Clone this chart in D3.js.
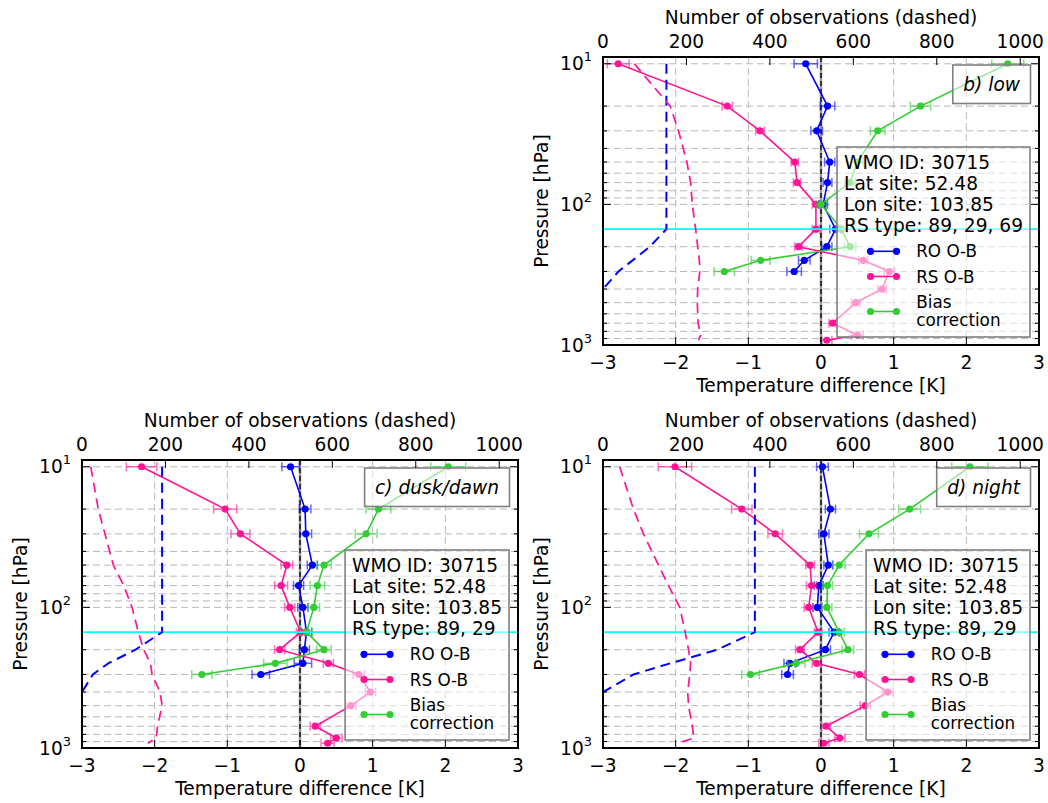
<!DOCTYPE html>
<html><head><meta charset="utf-8">
<script src="https://cdn.jsdelivr.net/npm/d3@7"></script>
<style>body{margin:0;background:#fff} svg{display:block} text{font-family:"DejaVu Sans",sans-serif;fill:#000}</style>
</head><body><svg id="c" width="1048" height="803"></svg>
<script>
// ---------- data ----------
const levels = [10,20,30,50,70,100,150,200,250,300,400,500,700,850,925]; // hPa
const xTicks = [-3,-2,-1,0,1,2,3];
const topTicks = [0,200,400,600,800,1000];
const yMajor = [10,100,1000];
const yMinor = [20,30,40,50,60,70,80,90,200,300,400,500,600,700,800,900];
const tropopause = 150;

// b) low
const lowRO     = [-0.21,0.09,-0.06,0.12,0.09,0.03,0.20,0.08,-0.23,-0.37];
const lowROErr  = [0.16,0.10,0.08,0.07,0.06,0.06,0.08,0.07,0.08,0.10];
const lowRS     = [-2.79,-1.29,-0.84,-0.36,-0.33,-0.07,-0.07,-0.31,0.58,0.94,0.84,0.48,0.16,0.50,0.08];
const lowRSErr  = [0.15,0.07,0.06,0.05,0.05,0.05,0.05,0.05,0.06,0.07,0.06,0.06,0.05,0.08,0.07];
const lowBC     = [2.57,1.37,0.78,0.50,0.40,0.00,0.28,0.40,-0.83,-1.33];
const lowBCErr  = [0.22,0.14,0.10,0.08,0.07,0.07,0.08,0.08,0.13,0.14];
const lowNumRO  = [152,152,152,152,152,152,152,112,71,37,0];
const lowNumRS  = [75,161,181,201,210,214,222,227,231,232,227,226,228,234,229];

// c) dusk/dawn
const duskRO    = [-0.13,0.07,0.08,0.17,-0.02,0.04,0.09,0.06,0.04,-0.54];
const duskROErr = [0.12,0.08,0.08,0.07,0.07,0.07,0.07,0.07,0.12,0.12];
const duskRS    = [-2.18,-1.03,-0.82,-0.18,-0.26,-0.14,0.01,-0.28,0.39,0.81,0.97,0.70,0.21,0.50,0.38];
const duskRSErr = [0.21,0.16,0.13,0.08,0.09,0.07,0.06,0.07,0.07,0.08,0.07,0.07,0.07,0.08,0.09];
const duskBC    = [2.04,1.08,0.91,0.33,0.24,0.19,0.09,0.33,-0.34,-1.35];
const duskBCErr = [0.24,0.17,0.15,0.10,0.10,0.08,0.08,0.10,0.16,0.14];
const duskNumRO = [192,192,192,192,192,192,192,128,63,26,0];
const duskNumRS = [21,39,55,75,100,120,135,148,164,168,187,192,181,178,158];

// d) night
const nightRO    = [0.02,0.13,0.04,0.10,-0.03,-0.05,0.18,0.06,-0.43,-0.46];
const nightROErr = [0.08,0.07,0.07,0.06,0.06,0.06,0.07,0.07,0.08,0.08];
const nightRS    = [-2.01,-1.09,-0.63,-0.15,-0.13,-0.17,-0.04,-0.29,-0.06,0.53,0.92,0.61,0.07,0.26,0.04];
const nightRSErr = [0.23,0.14,0.10,0.06,0.07,0.06,0.05,0.06,0.06,0.07,0.07,0.07,0.06,0.07,0.07];
const nightBC    = [2.05,1.22,0.66,0.25,0.09,0.08,0.25,0.37,-0.34,-0.97];
const nightBCErr = [0.25,0.15,0.13,0.08,0.07,0.07,0.07,0.08,0.12,0.12];
const nightNumRO = [364,364,364,364,364,364,364,274,161,73,0];
const nightNumRS = [40,73,97,133,157,184,197,205,210,208,203,205,214,218,179];

const infoLines = ['WMO ID: 30715','Lat site: 52.48','Lon site: 103.85'];

// ---------- layout / style ----------
const W = 436, H = 288;
const C = {ro:'#0000ff', rs:'#ff1493', bc:'#32cd32', cyan:'#00ffff', grid:'#b8b8b8', box:'#808080'};
const FS = 18.6, LFS = 16.8;

const panels = [
  {title:'b) low', rsType:'89, 29, 69', x0:603, y0:57, ro:lowRO, roErr:lowROErr, rs:lowRS, rsErr:lowRSErr, bc:lowBC, bcErr:lowBCErr, nRO:lowNumRO, nRS:lowNumRS},
  {title:'c) dusk/dawn', rsType:'89, 29', x0:82, y0:460, ro:duskRO, roErr:duskROErr, rs:duskRS, rsErr:duskRSErr, bc:duskBC, bcErr:duskBCErr, nRO:duskNumRO, nRS:duskNumRS},
  {title:'d) night', rsType:'89, 29', x0:603, y0:460, ro:nightRO, roErr:nightROErr, rs:nightRS, rsErr:nightRSErr, bc:nightBC, bcErr:nightBCErr, nRO:nightNumRO, nRS:nightNumRS}
];

const svg = d3.select('#c');
const defs = svg.append('defs');

panels.forEach((p, pi) => {
  const x = d3.scaleLinear().domain([-3,3]).range([p.x0, p.x0+W]);
  const xt = d3.scaleLinear().domain([0,1045]).range([p.x0, p.x0+W]);
  const y = d3.scaleLog().domain([8.95,1000]).range([p.y0, p.y0+H]);
  const clipId = 'clip'+pi;
  defs.append('clipPath').attr('id', clipId).append('rect')
    .attr('x', p.x0).attr('y', p.y0).attr('width', W).attr('height', H);
  const g = svg.append('g');
  const pg = g.append('g').attr('clip-path', `url(#${clipId})`);

  // grid
  pg.selectAll('.hg').data(yMajor.concat(yMinor)).enter().append('line')
    .attr('x1', p.x0).attr('x2', p.x0+W).attr('y1', d=>y(d)).attr('y2', d=>y(d))
    .attr('stroke', C.grid).attr('stroke-width',1).attr('stroke-dasharray','7,4');
  pg.selectAll('.vg').data(xTicks.filter(d=>d!==0)).enter().append('line')
    .attr('y1', p.y0).attr('y2', p.y0+H).attr('x1', d=>x(d)).attr('x2', d=>x(d))
    .attr('stroke', C.grid).attr('stroke-width',1).attr('stroke-dasharray','7,4');

  // zero line
  pg.append('line').attr('x1', x(0)).attr('x2', x(0)).attr('y1', p.y0).attr('y2', p.y0+H)
    .attr('stroke', '#999').attr('stroke-width', 2.5);
  pg.append('line').attr('x1', x(0)).attr('x2', x(0)).attr('y1', p.y0).attr('y2', p.y0+H)
    .attr('stroke', '#000').attr('stroke-width', 1.3).attr('stroke-dasharray','5,3');

  // data series
  const series = [
    {vals:p.ro, err:p.roErr, color:C.ro},
    {vals:p.rs, err:p.rsErr, color:C.rs},
    {vals:p.bc, err:p.bcErr, color:C.bc}
  ];
  series.forEach(s => {
    const pts = s.vals.map((v,i)=>({v, e:s.err[i], p:levels[i]}));
    const eg = pg.append('g').attr('stroke', s.color).attr('stroke-width',1.5).attr('opacity',0.6);
    pts.forEach(d => {
      eg.append('line').attr('x1', x(d.v-d.e)).attr('x2', x(d.v+d.e)).attr('y1', y(d.p)).attr('y2', y(d.p));
      [d.v-d.e, d.v+d.e].forEach(xx => eg.append('line').attr('x1', x(xx)).attr('x2', x(xx))
        .attr('y1', y(d.p)-4.5).attr('y2', y(d.p)+4.5));
    });
    pg.append('path').datum(pts)
      .attr('d', d3.line().x(d=>x(d.v)).y(d=>y(d.p)))
      .attr('fill','none').attr('stroke', s.color).attr('stroke-width',1.6);
    pg.selectAll(null).data(pts).enter().append('circle')
      .attr('cx', d=>x(d.v)).attr('cy', d=>y(d.p)).attr('r',3.6).attr('fill', s.color);
  });

  // info + legend box
  const lines = infoLines.concat(['RS type: ' + p.rsType]);
  const tmp = g.append('g');
  let maxW = 0;
  lines.forEach(t => {
    const tt = tmp.append('text').attr('font-size', FS).text(t);
    maxW = Math.max(maxW, tt.node().getComputedTextLength());
  });
  tmp.remove();
  const bw = maxW + 14, bh = 190;
  const bx = p.x0 + W - 9 - bw, by = p.y0 + 90;
  g.append('rect').attr('x', bx).attr('y', by).attr('width', bw).attr('height', bh)
    .attr('fill', '#fff').attr('fill-opacity', 0.55).attr('stroke', C.box).attr('stroke-width',1.6);
  lines.forEach((t,i) => g.append('text').attr('font-size', FS)
    .attr('x', bx+7).attr('y', by+15+i*21.1).attr('dy','0.36em').text(t));
  const lx = bx + bw/2 - 63;
  const legItems = [
    {lab:['RO O-B'], color:C.ro, dy:104.3},
    {lab:['RS O-B'], color:C.rs, dy:129.5},
    {lab:['Bias','correction'], color:C.bc, dy:164.5}
  ];
  legItems.forEach(it => {
    const yy = by + it.dy;
    g.append('line').attr('x1', lx).attr('x2', lx+26).attr('y1', yy).attr('y2', yy)
      .attr('stroke', it.color).attr('stroke-width',1.6);
    [lx, lx+26].forEach(cx => g.append('circle').attr('cx', cx).attr('cy', yy).attr('r',3.6).attr('fill', it.color));
    it.lab.forEach((t,k) => g.append('text').attr('font-size', LFS)
      .attr('x', lx+45.7).attr('y', yy + (it.lab.length>1 ? (k===0?-9.8:8.8) : 0)).attr('dy','0.36em').text(t));
  });

  // title box
  const tt = g.append('text').attr('font-size', FS).attr('font-style','italic').text(p.title);
  const tw = tt.node().getComputedTextLength();
  const tbw = tw + 21, tbx = p.x0 + W - 8.5 - tbw, tby = p.y0 + 8;
  g.insert('rect', () => tt.node()).attr('x', tbx).attr('y', tby).attr('width', tbw).attr('height', 38.5)
    .attr('fill', '#fff').attr('fill-opacity', 0.55).attr('stroke', C.box).attr('stroke-width',1.6);
  tt.attr('x', tbx + tbw/2).attr('text-anchor','middle').attr('y', tby+19.5).attr('dy','0.36em');

  // tropopause (cyan)
  pg.append('line').attr('x1', p.x0).attr('x2', p.x0+W).attr('y1', y(tropopause)).attr('y2', y(tropopause))
    .attr('stroke', C.cyan).attr('stroke-width', 1.6);

  // number of observations (dashed, top axis)
  const cg = g.append('g').attr('clip-path', `url(#${clipId})`);
  cg.append('path').datum(p.nRO.map((n,i)=>({n, p:levels[i]})))
    .attr('d', d3.line().x(d=>xt(d.n)).y(d=>y(d.p)))
    .attr('fill','none').attr('stroke', C.ro).attr('stroke-width',2).attr('stroke-dasharray','10,6');
  cg.append('path').datum(p.nRS.map((n,i)=>({n, p:levels[i]})))
    .attr('d', d3.line().x(d=>xt(d.n)).y(d=>y(d.p)))
    .attr('fill','none').attr('stroke', C.rs).attr('stroke-width',1.7).attr('stroke-dasharray','10,6');

  // frame
  g.append('rect').attr('x', p.x0).attr('y', p.y0).attr('width', W).attr('height', H)
    .attr('fill','none').attr('stroke','#000').attr('stroke-width',2);

  // ticks
  const tk = g.append('g').attr('stroke','#000').attr('stroke-width',1);
  xTicks.forEach(v => tk.append('line').attr('x1', x(v)).attr('x2', x(v)).attr('y1', p.y0+H).attr('y2', p.y0+H-8));
  topTicks.forEach(v => tk.append('line').attr('x1', xt(v)).attr('x2', xt(v)).attr('y1', p.y0).attr('y2', p.y0+8));
  yMajor.forEach(v => {
    tk.append('line').attr('x1', p.x0).attr('x2', p.x0+8).attr('y1', y(v)).attr('y2', y(v));
    tk.append('line').attr('x1', p.x0+W).attr('x2', p.x0+W-8).attr('y1', y(v)).attr('y2', y(v));
  });
  yMinor.forEach(v => {
    tk.append('line').attr('x1', p.x0).attr('x2', p.x0+4).attr('y1', y(v)).attr('y2', y(v));
    tk.append('line').attr('x1', p.x0+W).attr('x2', p.x0+W-4).attr('y1', y(v)).attr('y2', y(v));
  });

  // tick labels
  xTicks.forEach(v => g.append('text').attr('font-size', FS).attr('text-anchor','middle')
    .attr('x', x(v)).attr('y', p.y0+H+17).attr('dy','0.36em').text(v < 0 ? '\u2212' + Math.abs(v) : String(v)));
  topTicks.forEach(v => g.append('text').attr('font-size', FS).attr('text-anchor','middle')
    .attr('x', xt(v)).attr('y', p.y0-16).attr('dy','0.36em').text(String(v)));
  yMajor.forEach(v => {
    const t = g.append('text').attr('font-size', FS).attr('text-anchor','end')
      .attr('x', p.x0-11).attr('y', y(v)).attr('dy','0.36em');
    t.append('tspan').text('10');
    t.append('tspan').attr('font-size', 13).attr('dy', -9).text(String(Math.round(Math.log10(v))));
  });

  // axis labels
  g.append('text').attr('font-size', FS).attr('text-anchor','middle')
    .attr('x', p.x0 + W/2).attr('y', p.y0+H+40).attr('dy','0.36em').text('Temperature difference [K]');
  g.append('text').attr('font-size', FS).attr('text-anchor','middle')
    .attr('x', p.x0 + W/2).attr('y', p.y0-40).attr('dy','0.36em').text('Number of observations (dashed)');
  g.append('text').attr('font-size', FS).attr('text-anchor','middle')
    .attr('transform', `translate(${p.x0-62},${p.y0+H/2}) rotate(-90)`).attr('dy','0.36em').text('Pressure [hPa]');
});
</script></body></html>
